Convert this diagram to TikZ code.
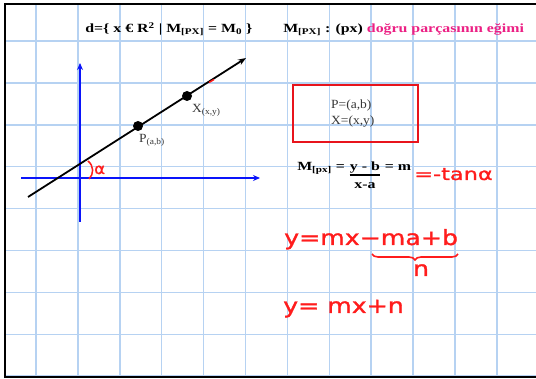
\documentclass[tikz,border=0pt]{standalone}
\usepackage{fontspec}
\setmainfont{Liberation Serif}
\newfontfamily\hand[FakeBold=1.2]{DejaVu Sans}
\usetikzlibrary{arrows.meta,decorations.pathreplacing}
\definecolor{gridblue}{RGB}{182,210,242}
\definecolor{pinkt}{RGB}{236,32,132}
\definecolor{boxred}{RGB}{232,20,28}
\definecolor{handred}{RGB}{255,28,28}
\definecolor{axisblue}{RGB}{10,20,250}
\definecolor{labgray}{RGB}{55,55,55}
\tikzset{
  gridline/.style={gridblue, line width=1.5pt},
  axis/.style={axisblue, line width=1.8pt, -{Stealth[length=7pt,width=6pt]}},
  dline/.style={black, line width=1.8pt, -{Stealth[length=8pt,width=6pt]}},
  dot/.style={circle, fill=black, inner sep=0pt, minimum size=10pt},
  head/.style={anchor=base west, inner sep=0pt, xscale=1.27, font=\fontsize{12.5}{14}\selectfont\bfseries},
  lab/.style={anchor=base west, inner sep=0pt, text=labgray, xscale=1.08, font=\fontsize{12.5}{14}\selectfont},
  frm/.style={anchor=base west, inner sep=0pt, xscale=1.27, font=\fontsize{12.5}{14}\selectfont\bfseries},
  hw/.style={anchor=base west, inner sep=0pt, text=handred, xscale=1.2, font=\hand\fontsize{21}{24}\selectfont},
}
\begin{document}
\begin{tikzpicture}[x=1pt,y=-1pt]
\useasboundingbox (0,0) rectangle (536,379);
\fill[white] (0,0) rectangle (536,379);
% grid
\foreach \i in {0,...,11} \draw[gridline] ({36+41.9*\i},4) -- ({36+41.9*\i},377);
\foreach \j in {0,...,8} \draw[gridline] (5,{41+41.9*\j}) -- (536,{41+41.9*\j});
% frame
\draw[black, line width=2pt] (540,4) -- (5,4) -- (5,377) -- (540,377);
% heading
\node[head] (h1) at (85,33) {d=\{ x € R\textsuperscript{2} | M\textsubscript{[PX]} = M\textsubscript{0} \}};
\node[head] (h2) at (283,33) {M\textsubscript{[PX]} : (px) \textcolor{pinkt}{doğru parçasının eğimi}};
% axes
\coordinate (yb) at (80,222); \coordinate (yt) at (80,63);
\coordinate (xl) at (21,178); \coordinate (xr) at (260,178);
\draw[axis] (yb) -- (yt);
\draw[axis] (xl) -- (xr);
% line
\coordinate (ls) at (28,197); \coordinate (le) at (246,58);
\draw[dline] (ls) -- (le);
\node[dot] (P) at (138,126) {};
\node[dot] (X) at (187,96) {};
\node[lab] (Pl) at (139,143) {P\textsubscript{(a,b)}};
\node[lab] (Xl) at (192,113) {X\textsubscript{(x,y)}};
\coordinate (rm1) at (209,82.5); \coordinate (rm2) at (214,79.5);
\draw[handred, line width=1.5pt] (rm1) -- (rm2);
% angle
\coordinate (a1) at (88,161); \coordinate (a2) at (89,179);
\draw[handred, line width=1.5pt] (a1) .. controls (94,166) and (94,174) .. (a2);
\node[anchor=base west, inner sep=0pt, text=handred, font=\hand\fontsize{15}{16}\selectfont, xscale=1.1] (al) at (94,174) {α};
% box
\node[draw=boxred, line width=2pt, minimum width=125pt, minimum height=57pt, anchor=north west] (box) at (292,84) {};
\node[lab] (bp) at (331,109) {P=(a,b)};
\node[lab] (bx) at (331,125) {X=(x,y)};
% formula
\node[frm] (fm) at (297,171) {M\textsubscript{[px]} =\hspace*{3.5pt}};
\node[frm] (fnum) at (fm.base east) {y - b};
\node[frm] (feq) at (fnum.base east) {\hspace*{3.5pt}= m};
\draw[black, line width=1.3pt] ([yshift=-4pt]fnum.base west) -- ([yshift=-4pt]fnum.base east);
\node[frm, anchor=base] (fden) at ([yshift=-18pt]fnum.base) {x-a};
\node[hw, xscale=1.1, font=\hand\fontsize{17}{20}\selectfont] (tan) at (414,180) {=-tanα};
% handwriting equations
\node[hw] (e1) at (284,245) {y=mx−ma+b};
\coordinate (b1) at (372,254); \coordinate (b2) at (458,254);
\draw[handred, line width=1.6pt, decorate, decoration={brace, mirror, amplitude=6pt}] (b1) -- (b2);
\node[hw, anchor=base] (n1) at (421,276) {n};
\node[hw] (e2) at (283,313) {y= mx+n};
\end{tikzpicture}
\end{document}
